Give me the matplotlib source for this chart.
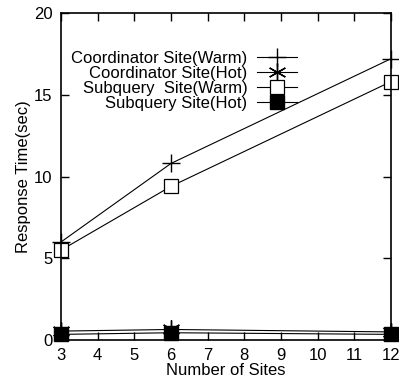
import matplotlib
matplotlib.use("Agg")
import matplotlib.pyplot as plt

plt.rcParams['font.family'] = ['Liberation Sans', 'DejaVu Sans']

sites = [3, 6, 12]
coord_warm = [6.0, 10.8, 17.2]
coord_hot = [0.55, 0.65, 0.5]
subq_warm = [5.5, 9.4, 15.8]
subq_hot = [0.35, 0.45, 0.35]
labels = ["Coordinator Site(Warm)", "Coordinator Site(Hot)",
          "Subquery  Site(Warm)", "Subquery Site(Hot)"]

fig = plt.figure(figsize=(3.99, 3.80), dpi=100)
ax = fig.add_axes([0.153, 0.105, 0.827, 0.861])

lw = 0.8
ax.plot(sites, coord_warm, color='black', lw=lw, marker='+', ms=13,
        mew=1.0, clip_on=False, label=labels[0])
ax.plot(sites, coord_hot, color='black', lw=lw, marker=(6, 2, 0), ms=13,
        mew=1.0, clip_on=False, label=labels[1])
ax.plot(sites, subq_warm, color='black', lw=lw, marker='s', ms=10.5,
        mfc='white', mec='black', mew=0.9, clip_on=False, label=labels[2])
ax.plot(sites, subq_hot, color='black', lw=lw, marker='s', ms=10.5,
        mfc='black', mec='black', clip_on=False, label=labels[3])

ax.set_xlim(3, 12)
ax.set_ylim(0, 20)
ax.set_xticks(range(3, 13))
ax.set_yticks([0, 5, 10, 15, 20])
ax.tick_params(direction='in', top=True, right=True, length=6, width=1,
               labelsize=12, pad=6)
for s in ax.spines.values():
    s.set_linewidth(1.2)

ax.set_xlabel("Number of Sites", fontsize=12, labelpad=0)
ax.set_ylabel("Response Time(sec)", fontsize=12, labelpad=2)

ax.legend(loc='upper left', bbox_to_anchor=(0.0, 0.915), frameon=False,
          markerfirst=False, fontsize=12, labelspacing=0.0,
          handlelength=2.4, handletextpad=0.6, borderaxespad=0.2)

fig.savefig("out.png", dpi=100)
